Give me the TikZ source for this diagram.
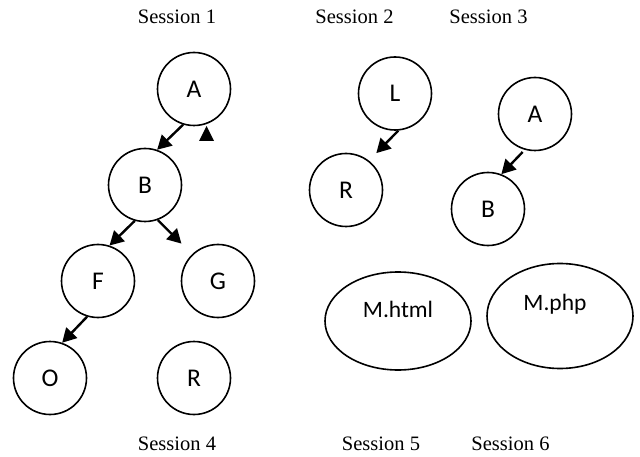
\documentclass[tikz,border=0pt]{standalone}
\usepackage{fontspec}
\setmainfont{Liberation Serif}
\newfontfamily\nodefont{Carlito}
\usetikzlibrary{arrows.meta,shapes.geometric}
\begin{document}
\begin{tikzpicture}[x=1pt,y=-1pt,
  circ/.style={circle,draw,line width=1.6pt,minimum size=73pt,inner sep=0pt,font=\nodefont\fontsize{25.5}{28}\selectfont},
  ell/.style={ellipse,draw,line width=1.6pt,inner sep=0pt},
  etxt/.style={inner sep=0pt,anchor=base,font=\nodefont\fontsize{23.5}{26}\selectfont},
  lbl/.style={anchor=base,inner sep=0pt,font=\fontsize{20.5}{24}\selectfont},
  arr/.style={line width=2.4pt,-{Triangle[length=14pt,width=15pt]}}]
\useasboundingbox (0,0) rectangle (640,457);
% session labels
\node[lbl] (s1) at (177,24) {Session 1};
\node[lbl] (s2) at (354.5,24) {Session 2};
\node[lbl] (s3) at (488.5,24) {Session 3};
\node[lbl] (s4) at (177,450) {Session 4};
\node[lbl] (s5) at (381,450) {Session 5};
\node[lbl] (s6) at (510.5,450) {Session 6};
% session 1 / 4 tree
\node[circ] (A) at (194,89) {A};
\node[circ] (B) at (145,185) {B};
\node[circ] (F) at (98,281) {F};
\node[circ] (G) at (218,281) {G};
\node[circ] (O) at (50,378) {O};
\node[circ] (R) at (194,378) {R};
% session 2
\node[circ] (L) at (395,93.5) {L};
\node[circ] (R2) at (346,190) {R};
% session 3
\node[circ] (A3) at (535,114) {A};
\node[circ] (B3) at (488,209) {B};
% ellipses
\node[ell,minimum width=146pt,minimum height=98pt] (MH) at (398,321) {};
\node[ell,minimum width=146pt,minimum height=105pt] (MP) at (560,316) {};
\node[etxt] (MHt) at (398,317) {M.html};
\node[etxt] (MPt) at (555,310) {M.php};
% arrows
\draw[arr] (A.253) -- (B.71);
\draw[arr] (B.254) -- (F.72);
\draw[arr,shorten >=15pt] (B.290) -- (G.134);
\draw[arr] (F.253) -- (O.71);
\draw[arr,shorten >=10.5pt] (L.275) -- (R2.52);
\draw[arr,shorten <=3pt] (A3.254) -- (B3.69);
% lone arrow tip
\coordinate (up) at (206.5,126);
\fill (up) -- ++(-7.5,15) -- ++(15,0) -- cycle;
\end{tikzpicture}
\end{document}
